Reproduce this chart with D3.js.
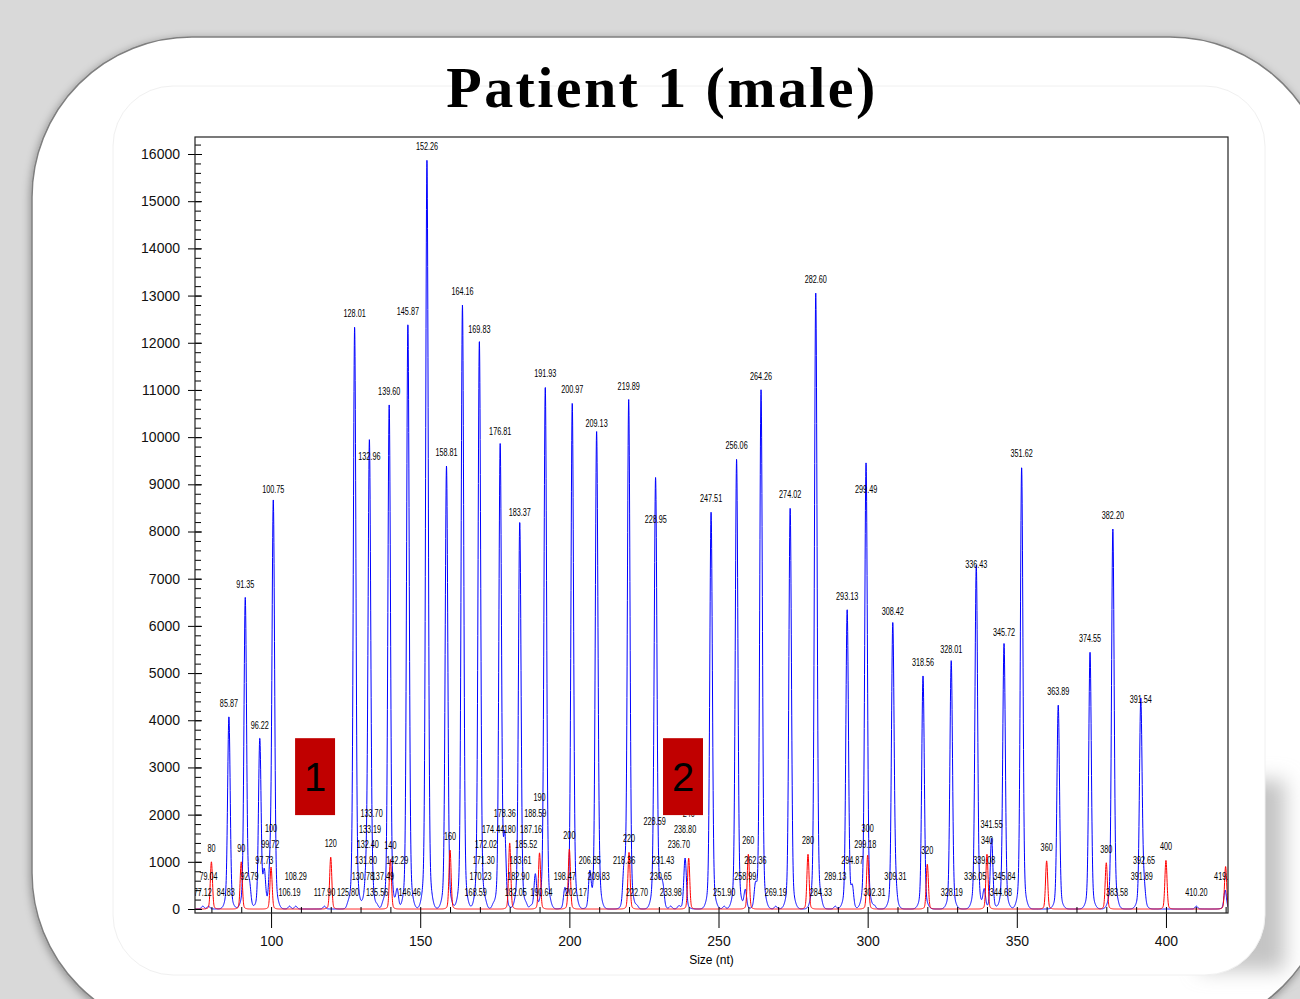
<!DOCTYPE html>
<html>
<head>
<meta charset="utf-8">
<script src="https://cdn.jsdelivr.net/npm/d3@7/dist/d3.min.js"></script>
<style>
  body { margin: 0; background: #d9d9d9; }
  svg { display: block; }
</style>
</head>
<body>
<svg id="slide" width="1300" height="999"></svg>
<script>
// sample peaks (blue), labelled with their called size
const bigSizes = [85.87, 91.35, 96.22, 100.75, 128.01, 132.96, 139.60, 145.87, 152.26, 158.81,
  164.16, 169.83, 176.81, 183.37, 191.93, 200.97, 209.13, 219.89, 228.95, 247.51,
  256.06, 264.26, 274.02, 282.60, 293.13, 299.49, 308.42, 318.56, 328.01, 336.43,
  345.72, 351.62, 363.89, 374.55, 382.20, 391.54];
const bigHeights = [4070, 6590, 3600, 8600, 12330, 9300, 10680, 12370, 15870, 9390,
  12800, 11990, 9830, 8110, 11060, 10720, 10000, 10780, 7970, 8410,
  9530, 11000, 8500, 13050, 6340, 8600, 6020, 4940, 5210, 7010,
  5570, 9360, 4320, 5440, 8050, 4150];

// small blue peaks and shoulders
const smallSizes = [77.12, 79.04, 84.83, 92.79, 97.73, 99.72, 106.19, 108.29, 117.90, 125.80,
  130.78, 131.80, 132.40, 133.19, 133.70, 135.56, 137.49, 142.29, 146.46, 168.59,
  170.23, 171.30, 172.02, 174.44, 178.36, 182.05, 182.90, 183.61, 185.52, 187.16,
  188.59, 190.64, 198.47, 202.17, 206.85, 209.83, 218.36, 222.70, 228.59, 230.65,
  231.43, 233.98, 236.70, 238.80, 251.90, 258.99, 262.36, 269.19, 284.33, 289.13,
  294.87, 299.18, 302.31, 309.31, 328.19, 336.05, 339.08, 341.55, 344.68, 345.84,
  383.58, 391.89, 392.65, 410.20, 419.86];
const smallHeights = [60, 60, 60, 400, 740, 740, 60, 60, 60, 60,
  60, 400, 400, 400, 400, 60, 60, 400, 60, 60,
  60, 60, 60, 60, 1400, 60, 60, 60, 60, 60,
  740, 60, 400, 60, 740, 400, 740, 60, 1570, 400,
  400, 60, 60, 1080, 60, 400, 400, 60, 60, 60,
  400, 1080, 60, 400, 60, 400, 400, 1500, 60, 60,
  60, 400, 400, 60, 400];

// size standard (red)
const redSizes = [80, 90, 100, 120, 140, 160, 180, 190, 200, 220, 240, 260, 280, 300, 320, 340, 360, 380, 400, 420];
const redHeights = [1000, 1000, 890, 1100, 1050, 1250, 1400, 1190, 1270, 1200, 1080, 1160, 1160, 1140, 950, 1160, 1020, 980, 1030, 900];
const redLabels = ["80", "90", "100", "120", "140", "160", "180", "190", "200", "220", "240", "260", "280", "300", "320", "340", "360", "380", "400", null];

const yTicks = [0, 1000, 2000, 3000, 4000, 5000, 6000, 7000, 8000, 9000, 10000, 11000, 12000, 13000, 14000, 15000, 16000];
const xTicks = [100, 150, 200, 250, 300, 350, 400];

// the two numbered boxes: [from size, to size], [from RFU, to RFU]
const markNames = ["1", "2"];
const markSizes = [[108.05, 121.45], [231.4, 244.8]];
const markRfu = [1990, 3620];

const svg = d3.select("#slide");
const defs = svg.append("defs");

const sh = defs.append("filter").attr("id", "cardShadow")
  .attr("x", "-10%").attr("y", "-10%").attr("width", "120%").attr("height", "120%");
sh.append("feDropShadow").attr("dx", -1).attr("dy", 2).attr("stdDeviation", 4)
  .attr("flood-color", "#000").attr("flood-opacity", 0.35);

const blur = defs.append("filter").attr("id", "soft")
  .attr("x", "-50%").attr("y", "-50%").attr("width", "200%").attr("height", "200%");
blur.append("feGaussianBlur").attr("stdDeviation", 10);

// slide card
svg.append("rect")
  .attr("x", 32).attr("y", 37).attr("width", 1298).attr("height", 996)
  .attr("rx", 160).attr("ry", 160)
  .attr("fill", "#fff").attr("stroke", "#7f7f7f").attr("stroke-width", 1.5)
  .attr("filter", "url(#cardShadow)");

// picture shadow + picture frame
svg.append("rect")
  .attr("x", 1200).attr("y", 780).attr("width", 85).attr("height", 190)
  .attr("fill", "#c4c4c4").attr("filter", "url(#soft)");
svg.append("rect")
  .attr("x", 113).attr("y", 86).attr("width", 1152).attr("height", 889)
  .attr("rx", 60).attr("ry", 60)
  .attr("fill", "#fff").attr("stroke", "#f0f0f0");

svg.append("text")
  .attr("x", 662).attr("y", 107)
  .attr("text-anchor", "middle")
  .style("font-family", "'Liberation Serif', 'DejaVu Serif', serif")
  .style("font-weight", "bold")
  .style("font-size", "58px")
  .style("letter-spacing", "2.4px")
  .text("Patient 1 (male)");

const plot = {left: 195, right: 1228, top: 137, bottom: 913};

const x = d3.scaleLinear().domain([74.5, 420.8]).range([plot.left, plot.right]);
const y = d3.scaleLinear().domain([0, 16000]).range([909, 154]);

defs.append("clipPath").attr("id", "plotClip")
  .append("rect")
  .attr("x", plot.left).attr("y", plot.top)
  .attr("width", plot.right - plot.left).attr("height", plot.bottom - plot.top);

svg.append("rect")
  .attr("x", plot.left).attr("y", plot.top)
  .attr("width", plot.right - plot.left).attr("height", plot.bottom - plot.top)
  .attr("fill", "#fff");

// traces: every peak drawn as a narrow spike with a low, wider foot
function trace(sizes, heights, sigma, foot) {
  const pts = [];
  for (let s = 74; s <= 421.5; s += 0.05) {
    let v = 0;
    for (let i = 0; i < sizes.length; i++) {
      const d = s - sizes[i];
      if (Math.abs(d) > 8) continue;
      const a = d / sigma, b = d / (sigma * 2.6);
      v += heights[i] * ((1 - foot) * Math.exp(-0.5 * a * a) + foot * Math.exp(-0.5 * b * b));
    }
    pts.push([s, v]);
  }
  return pts;
}

const line = d3.line().x(d => x(d[0])).y(d => y(d[1]));
const gPlot = svg.append("g").attr("clip-path", "url(#plotClip)");

gPlot.append("path")
  .datum(trace(bigSizes.concat(smallSizes), bigHeights.concat(smallHeights), 0.42, 0.07))
  .attr("fill", "none").attr("stroke", "#0000ff").attr("stroke-width", 1)
  .attr("d", line);

gPlot.append("path")
  .datum(trace(redSizes, redHeights, 0.35, 0.05))
  .attr("fill", "none").attr("stroke", "#ff0000").attr("stroke-width", 1)
  .attr("d", line);

// axes
const axisFont = "'Liberation Sans', Arial, sans-serif";

svg.append("g").attr("transform", `translate(${plot.left},0)`)
  .call(d3.axisLeft(y).tickValues(yTicks).tickSize(7).tickPadding(8).tickFormat(d3.format("d")));
svg.append("g").attr("transform", `translate(${plot.left},0)`)
  .call(d3.axisRight(y).tickValues(d3.range(0, 16201, 200)).tickSize(6).tickFormat(""));
svg.append("g").attr("transform", `translate(${plot.left},0)`)
  .call(d3.axisRight(y).tickValues(yTicks).tickSize(7).tickFormat(""));

svg.append("g").attr("transform", `translate(0,${plot.bottom})`)
  .call(d3.axisBottom(x).tickValues(xTicks).tickSize(15).tickPadding(8).tickFormat(d3.format("d")));
svg.append("g").attr("transform", `translate(0,${plot.bottom})`)
  .call(d3.axisTop(x).tickValues(d3.range(80, 421, 10)).tickSize(6).tickFormat(""));

svg.selectAll(".domain").remove();
svg.selectAll(".tick line").attr("stroke", "#000");
svg.selectAll(".tick text")
  .style("font-family", axisFont).style("font-size", "14px").attr("fill", "#111");

svg.append("text")
  .attr("x", (plot.left + plot.right) / 2).attr("y", 964)
  .attr("text-anchor", "middle")
  .style("font-family", axisFont).style("font-size", "12px")
  .text("Size (nt)");

svg.append("rect")
  .attr("x", plot.left).attr("y", plot.top)
  .attr("width", plot.right - plot.left).attr("height", plot.bottom - plot.top)
  .attr("fill", "none").attr("stroke", "#222").attr("stroke-width", 1.2);

// peak labels (condensed), stacked upward when they collide
const squeeze = 0.66;
const gLab = svg.append("g").attr("clip-path", "url(#plotClip)")
  .style("font-family", axisFont)
  .style("font-size", "11px");

const fmt = d3.format(".2f");
const blueItems = bigSizes.map((s, i) => ({s, h: bigHeights[i], text: fmt(s)}))
  .concat(smallSizes.map((s, i) => ({s, h: smallHeights[i], text: fmt(s)})))
  .sort((a, b) => a.s - b.s);
const redItems = redSizes.map((s, i) => ({s, h: redHeights[i], text: redLabels[i]}))
  .filter(d => d.text);

const placed = [];
blueItems.concat(redItems).forEach(d => {
  const px = x(d.s);
  const t = gLab.append("text")
    .attr("text-anchor", "middle").attr("dy", "0.35em")
    .text(d.text);
  const w = t.node().getComputedTextLength() * squeeze;
  let py = Math.min(y(d.h) - 14, y(0) - 17);
  let hit;
  do {
    hit = placed.find(p => Math.abs(p.x - px) < (p.w + w) / 2 * 0.85 && Math.abs(p.y - py) < 14);
    if (hit) py = hit.y - 15.8;
  } while (hit);
  placed.push({x: px, y: py, w});
  t.attr("transform", `translate(${px},${py}) scale(${squeeze},1)`);
});

// numbered boxes
markNames.forEach((name, i) => {
  const x0 = x(markSizes[i][0]), x1 = x(markSizes[i][1]);
  const y0 = y(markRfu[1]), y1 = y(markRfu[0]);
  svg.append("rect")
    .attr("x", x0).attr("y", y0).attr("width", x1 - x0).attr("height", y1 - y0)
    .attr("fill", "#c00000");
  svg.append("text")
    .attr("x", (x0 + x1) / 2).attr("y", (y0 + y1) / 2 + 14)
    .attr("text-anchor", "middle")
    .style("font-family", axisFont).style("font-size", "40px")
    .attr("fill", "#000")
    .text(name);
});
</script>
</body>
</html>
